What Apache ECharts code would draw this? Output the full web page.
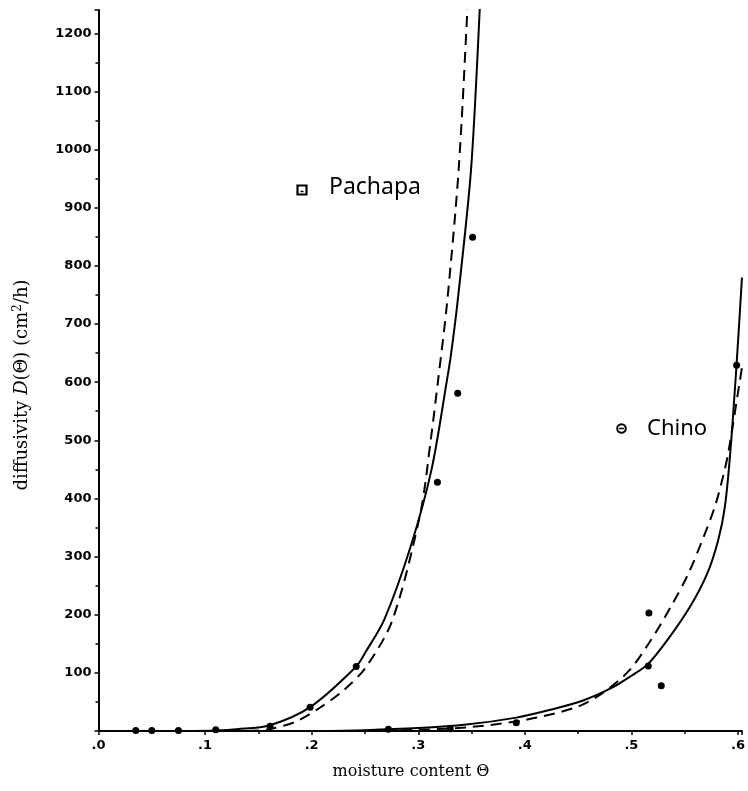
<!DOCTYPE html>
<html>
<head>
<meta charset="utf-8">
<script src="https://cdn.jsdelivr.net/npm/echarts@6/dist/echarts.min.js"></script>
<style>
  html, body { margin: 0; padding: 0; background: #fff; }
  #chart { width: 748px; height: 791px; }
</style>
</head>
<body>
<div id="chart"></div>
<script>
  // measured points (moisture content, diffusivity cm2/h)
  var pachapaPoints = [[0.035, 1], [0.05, 1], [0.075, 1], [0.11, 2], [0.161, 8], [0.1985, 41], [0.2418, 111], [0.318, 428], [0.337, 581], [0.351, 849]]
  var chinoPoints = [[0.272, 3], [0.33, 4], [0.392, 14], [0.5164, 203], [0.5158, 112], [0.528, 78], [0.5987, 629]]

  // fitted curves
  var pachapaSolid = [[0.08, 0], [0.11, 1], [0.13, 3], [0.161, 10], [0.1985, 41], [0.2418, 111], [0.251, 137], [0.268, 191], [0.2928, 317], [0.3125, 450], [0.3269, 603], [0.3306, 646], [0.337, 740], [0.3495, 965], [0.3576, 1238], [0.3585, 1300]]
  var pachapaDashed = [[0.14, 0], [0.16, 3], [0.185, 16], [0.2077, 40], [0.23, 70], [0.251, 110], [0.2758, 191], [0.302, 375], [0.3121, 506], [0.3186, 603], [0.3269, 734], [0.3378, 963], [0.346, 1238], [0.347, 1300]]
  var chinoSolid = [[0.2, 0], [0.25, 1.5], [0.3, 5], [0.345, 11], [0.392, 23], [0.423, 36], [0.454, 52], [0.4814, 74], [0.5, 95], [0.5155, 115], [0.534, 157], [0.5551, 214], [0.5712, 271], [0.5814, 328], [0.5877, 386], [0.5928, 480], [0.5986, 629], [0.6037, 780]]
  var chinoDashed = [[0.25, 0.5], [0.3, 2], [0.35, 7], [0.4, 19], [0.45, 42], [0.475, 68], [0.4984, 105], [0.5185, 157], [0.5371, 214], [0.5535, 271], [0.5665, 328], [0.5783, 386], [0.5867, 443], [0.5913, 483], [0.6018, 603], [0.6037, 625]]

  var xTicks = [0, 0.1, 0.2, 0.3, 0.4, 0.5, 0.6]
  var yTicks = [100, 200, 300, 400, 500, 600, 700, 800, 900, 1000, 1100, 1200]

  var chart = echarts.init(document.getElementById('chart'))

  var tickFont = {
    color: '#000',
    fontFamily: 'DejaVu Sans',
    fontWeight: 'bold',
    fontSize: 13
  }

  function curve(data, dashed) {
    return {
      type: 'line',
      data: data,
      symbol: 'none',
      smooth: 0.3,
      clip: true,
      lineStyle: {
        color: '#000',
        width: 2,
        type: dashed ? [11, 7] : 'solid'
      },
      z: 3
    }
  }

  function dots(data) {
    return {
      type: 'scatter',
      data: data,
      symbol: 'circle',
      symbolSize: 7,
      itemStyle: { color: '#000', opacity: 1 },
      z: 4
    }
  }

  var option = {
    backgroundColor: '#fff',
    animation: false,
    grid: {
      left: 98.5,
      right: 0,
      top: 10,
      bottom: 60
    },
    xAxis: {
      type: 'value',
      min: 0,
      max: 0.6037,
      interval: 0.1,
      axisLine: { lineStyle: { color: '#000', width: 2 } },
      axisTick: { show: true, length: 4, lineStyle: { color: '#000', width: 1.5 } },
      minorTick: { show: true, splitNumber: 2, length: 3, lineStyle: { color: '#000', width: 1.5 } },
      splitLine: { show: false },
      axisLabel: Object.assign({
        margin: 8,
        formatter: function (v) {
          for (var i = 0; i < xTicks.length; i++) {
            if (Math.abs(v - xTicks[i]) < 1e-6) return '.' + Math.round(v * 10)
          }
          return ''
        }
      }, tickFont)
    },
    yAxis: {
      type: 'value',
      min: 0,
      max: 1240,
      interval: 100,
      axisLine: { lineStyle: { color: '#000', width: 2 } },
      axisTick: { show: true, length: 4, lineStyle: { color: '#000', width: 1.5 } },
      minorTick: { show: true, splitNumber: 2, length: 3, lineStyle: { color: '#000', width: 1.5 } },
      splitLine: { show: false },
      axisLabel: Object.assign({
        margin: 7,
        formatter: function (v) {
          return yTicks.indexOf(v) >= 0 ? String(v) : ''
        }
      }, tickFont)
    },
    series: [
      curve(pachapaSolid, false),
      curve(pachapaDashed, true),
      curve(chinoSolid, false),
      curve(chinoDashed, true),
      dots(pachapaPoints),
      dots(chinoPoints)
    ],
    graphic: [
      // key markers + names
      { type: 'rect', shape: { x: 297.5, y: 185.5, width: 9, height: 9 }, style: { fill: '#fff', stroke: '#000', lineWidth: 2.2 } },
      { type: 'line', shape: { x1: 300.5, y1: 191.5, x2: 303.5, y2: 191.5 }, style: { stroke: '#000', lineWidth: 1.5 } },
      { type: 'text', left: 329, top: 176, style: { text: 'Pachapa', fill: '#000', font: '23px "Noto Sans"' } },
      { type: 'circle', shape: { cx: 621.5, cy: 428.5, r: 4.3 }, style: { fill: '#fff', stroke: '#000', lineWidth: 2 } },
      { type: 'line', shape: { x1: 619, y1: 428.5, x2: 624, y2: 428.5 }, style: { stroke: '#000', lineWidth: 1.5 } },
      { type: 'text', left: 647, top: 418, style: { text: 'Chino', fill: '#000', font: '22px "Noto Sans"' } },
      // axis titles
      {
        type: 'text',
        x: 22,
        y: 385,
        rotation: Math.PI / 2,
        style: {
          text: 'diffusivity {i|D}(Θ) (cm{sup|2}/h)',
          fill: '#000',
          font: '18px "DejaVu Serif"',
          align: 'center',
          verticalAlign: 'middle',
          rich: {
            i: { fontStyle: 'italic', fontFamily: 'DejaVu Serif', fontSize: 18 },
            sup: { fontFamily: 'DejaVu Serif', fontSize: 12, verticalAlign: 'top', padding: [0, 0, 9, 0] }
          }
        }
      },
      {
        type: 'text',
        x: 411,
        y: 772,
        style: {
          text: 'moisture content Θ',
          fill: '#000',
          font: '16px "DejaVu Serif"',
          align: 'center',
          verticalAlign: 'middle'
        }
      }
    ]
  }

  chart.setOption(option)
</script>
</body>
</html>
